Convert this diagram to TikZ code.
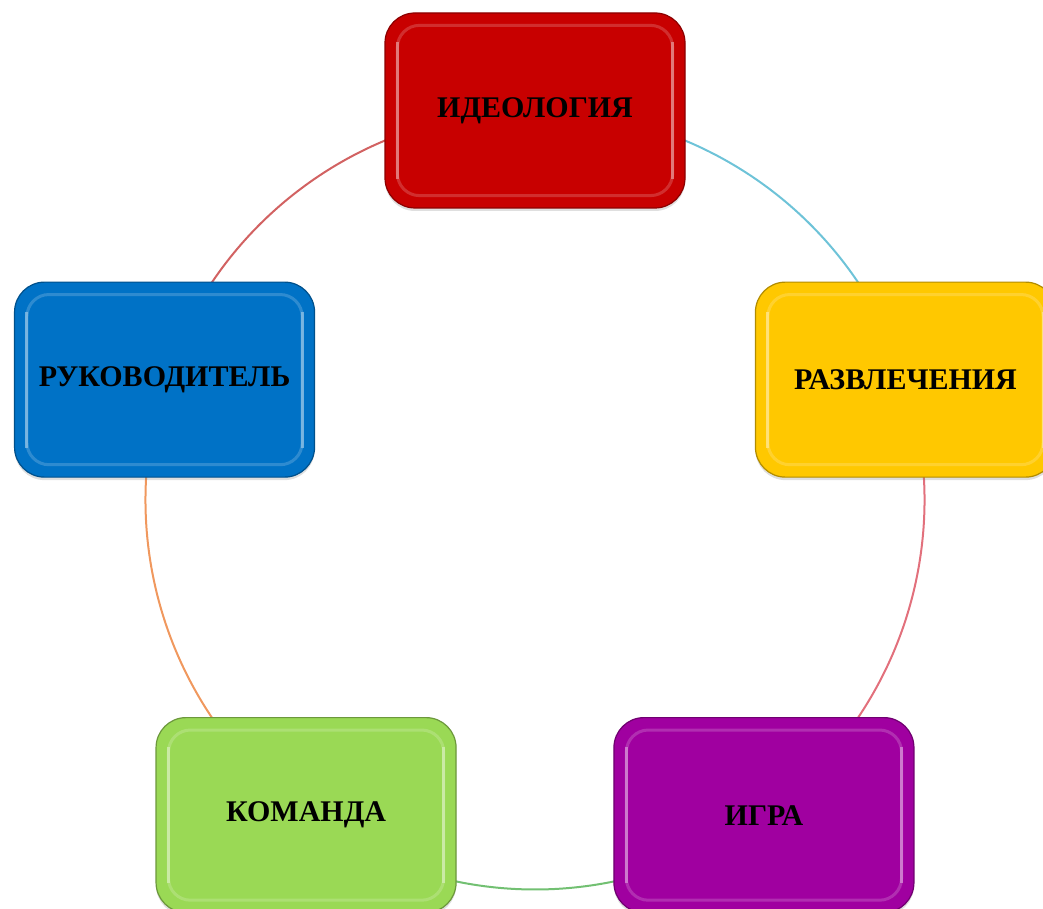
\documentclass[tikz,border=0pt]{standalone}
\usepackage{fontspec}
\setmainfont{Liberation Serif}
\usetikzlibrary{shadows}

\begin{document}
\begin{tikzpicture}[x=0.5pt,y=0.5pt]
        %colores
        \definecolor{rojo}{HTML}{C80000}
        \definecolor{amarillo}{HTML}{FFC800}
        \definecolor{morado}{HTML}{A000A0}
        \definecolor{verde}{HTML}{9AD955}
        \definecolor{azul}{HTML}{0072C6}
        \definecolor{lcian}{HTML}{6EC3D8}
        \definecolor{lrojo}{HTML}{D26262}
        \definecolor{lnaranja}{HTML}{F0985E}
        \definecolor{lverde}{HTML}{72C072}
        \definecolor{lrosa}{HTML}{E2707C}
        \tikzset{caja/.style={draw=#1!70!black, fill=#1, line width=0.6pt,
            rounded corners=15pt, minimum width=150pt, minimum height=97.5pt,
            font=\fontsize{15}{18}\selectfont\bfseries,
            drop shadow={opacity=0.25, shadow xshift=0pt, shadow yshift=-1.5pt}}}

        \useasboundingbox (0,0) rectangle (1043,909);
        \clip (0,0) rectangle (1043,909);
        \coordinate (centro) at (535,409);

        % Circulo
        \foreach \a/\b/\col in {18/90/lcian, 90/162/lrojo, 162/234/lnaranja, 234/306/lverde, 306/378/lrosa}
            \draw[\col, line width=1pt] (centro) ++(\a:389.5) arc (\a:\b:389.5);

        % Cajas y brillo
        \foreach \ang/\nombre/\col/\texto in {90/ideologia/rojo/ИДЕОЛОГИЯ, 18/razvlech/amarillo/РАЗВЛЕЧЕНИЯ,
            -54/igra/morado/ИГРА, -126/komanda/verde/КОМАНДА, 162/rukovod/azul/РУКОВОДИТЕЛЬ}
        {
            \node[caja=\col] (\nombre) at ([shift={(\ang:389.5)}]centro) {\texto};
            \draw[white, opacity=0.18, line width=1.5pt, rounded corners=11pt]
                ([shift={(13,-13)}]\nombre.north west) rectangle ([shift={(-13,13)}]\nombre.south east);
            \draw[\col!40!white, opacity=0.7, line width=1.5pt]
                ([shift={(13,-30)}]\nombre.north west) -- ([shift={(13,30)}]\nombre.south west)
                ([shift={(-13,-30)}]\nombre.north east) -- ([shift={(-13,30)}]\nombre.south east);
        }
\end{tikzpicture}
\end{document}
